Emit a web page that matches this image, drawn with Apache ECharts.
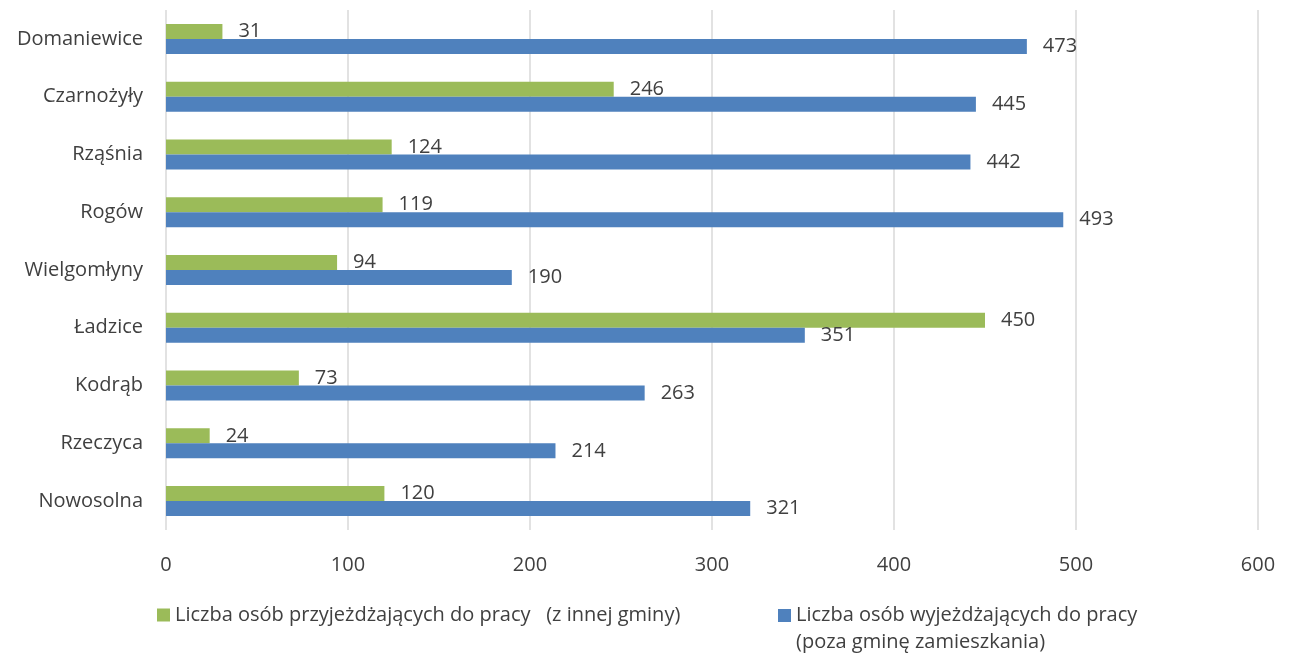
<!DOCTYPE html>
<html>
<head>
<meta charset="utf-8">
<script src="https://cdn.jsdelivr.net/npm/echarts@6/dist/echarts.min.js"></script>
<style>html,body{margin:0;padding:0;background:#fff;}#c{width:1292px;height:658px;}</style>
</head>
<body>
<div id="c"></div>
<script>
const categories = ['Nowosolna', 'Rzeczyca', 'Kodrąb', 'Ładzice', 'Wielgomłyny', 'Rogów', 'Rząśnia', 'Czarnożyły', 'Domaniewice'];
const przyjezdzajacy = [120, 24, 73, 450, 94, 119, 124, 246, 31];
const wyjezdzajacy = [321, 214, 263, 351, 190, 493, 442, 445, 473];
const nameIn = 'Liczba osób przyjeżdżających do pracy   (z innej gminy)';
const nameOut = 'Liczba osób wyjeżdżających do pracy\n(poza gminę zamieszkania)';
const xTicks = { min: 0, max: 600, interval: 100 };

const FONT = 'Open Sans';
const FS = 20;
const TXT = '#404040';
const chart = echarts.init(document.getElementById('c'));
chart.setOption({
  animation: false,
  textStyle: { fontFamily: FONT },
  grid: { left: 166, right: 34, top: 10, bottom: 128 },
  legend: [
    {
      data: [nameIn], left: 152, top: 598, itemWidth: 13, itemHeight: 13,
      icon: 'rect', textStyle: { fontFamily: FONT, fontSize: FS, color: TXT, lineHeight: 24 }
    },
    {
      data: [nameOut], left: 773, top: 570, itemWidth: 13, itemHeight: 13,
      icon: 'rect', formatter: function (n) { return ' \n' + n; },
      textStyle: { fontFamily: FONT, fontSize: FS, color: TXT, lineHeight: 27 }
    }
  ],
  xAxis: {
    type: 'value', min: xTicks.min, max: xTicks.max, interval: xTicks.interval,
    axisLine: { show: false }, axisTick: { show: false },
    axisLabel: { fontSize: FS, color: TXT, margin: 25, fontFamily: FONT },
    splitLine: { show: true, lineStyle: { color: '#d9d9d9', width: 1.5 } }
  },
  yAxis: {
    type: 'category', data: categories,
    axisLine: { show: false }, axisTick: { show: false },
    axisLabel: { fontSize: FS, color: TXT, margin: 23, fontFamily: FONT }
  },
  series: [
    {
      name: nameIn, type: 'bar', data: przyjezdzajacy, barWidth: 15, barGap: '0%',
      itemStyle: { color: '#9BBB59' },
      label: { show: true, position: 'right', distance: 16, fontSize: FS, color: TXT, fontFamily: FONT }
    },
    {
      name: nameOut, type: 'bar', data: wyjezdzajacy, barWidth: 15, barGap: '0%',
      itemStyle: { color: '#4F81BD' },
      label: { show: true, position: 'right', distance: 16, fontSize: FS, color: TXT, fontFamily: FONT }
    }
  ]
});
</script>
</body>
</html>
